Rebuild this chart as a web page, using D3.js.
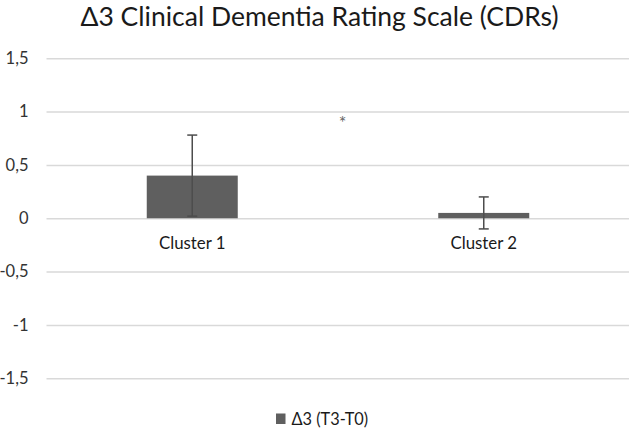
<!DOCTYPE html>
<html>
<head>
<meta charset="utf-8">
<script src="https://cdn.jsdelivr.net/npm/d3@7"></script>
<style>
  html, body { margin: 0; padding: 0; background: #fff; }
  svg { display: block; }
  text { font-family: Lato, "Open Sans", sans-serif; }
</style>
</head>
<body>
<svg id="chart" width="629" height="430"></svg>
<script>
const title = "Δ3 Clinical Dementia Rating Scale (CDRs)";
const categories = ["Cluster 1", "Cluster 2"];
const values = [0.40, 0.05];
const errors = [0.38, 0.15];
const seriesName = "Δ3 (T3-T0)";
const yTicks = [-1.5, -1, -0.5, 0, 0.5, 1, 1.5];
const yTickLabels = ["-1,5", "-1", "-0,5", "0", "0,5", "1", "1,5"];
const annotation = "*";

const W = 629, H = 430;
const svg = d3.select("#chart");

const x = d3.scaleBand().domain(categories).range([46.5, 629.5]).paddingInner(0.688).paddingOuter(0.344);
const y = d3.scaleLinear().domain([-1.5, 1.5]).range([378.2, 58.3]);

// fit text to a target width
function fit(sel, target) {
  const n = sel.node();
  const w = n.getComputedTextLength();
  const fs = parseFloat(sel.attr("font-size"));
  sel.attr("font-size", (fs * target / w).toFixed(2));
}

// title
const t = svg.append("text").attr("x", W / 2 + 5).attr("y", 25.5)
  .attr("text-anchor", "middle").attr("font-size", 26).attr("fill", "#1a1a1a").text(title);
fit(t, 478);

// gridlines
const yAxis = d3.axisLeft(y).tickValues(yTicks).tickSize(-(629 - 46.5))
  .tickFormat((d, i) => yTickLabels[i]).tickPadding(18);
const gy = svg.append("g").attr("transform", "translate(46.5,0)").call(yAxis);
gy.select(".domain").remove();
gy.selectAll(".tick line").attr("stroke", "#d9d9d9").attr("stroke-width", 1.5);
gy.selectAll(".tick text").attr("font-size", 16.5).attr("fill", "#333")
  .attr("font-family", "Lato, 'Open Sans', sans-serif");

// bars
const bw = 91;
svg.append("g").selectAll("rect").data(values).join("rect")
  .attr("x", (d, i) => x(categories[i]) + x.bandwidth() / 2 - bw / 2)
  .attr("width", bw)
  .attr("y", d => y(Math.max(0, d)))
  .attr("height", d => Math.abs(y(d) - y(0)))
  .attr("fill", "#5f5f5f");

// error bars
const eg = svg.append("g").attr("stroke", "#4d4d4d").attr("stroke-width", 1.5);
values.forEach((v, i) => {
  const cx = x(categories[i]) + x.bandwidth() / 2;
  const hi = y(v + errors[i]), lo = y(v - errors[i]);
  eg.append("line").attr("x1", cx).attr("x2", cx).attr("y1", hi).attr("y2", lo);
  eg.append("line").attr("x1", cx - 5).attr("x2", cx + 5).attr("y1", hi).attr("y2", hi);
  eg.append("line").attr("x1", cx - 5).attr("x2", cx + 5).attr("y1", lo).attr("y2", lo);
});

// category labels
categories.forEach((c, i) => {
  const s = svg.append("text").attr("x", x(c) + x.bandwidth() / 2).attr("y", 249)
    .attr("text-anchor", "middle").attr("font-size", 16.5).attr("fill", "#1a1a1a").text(c);
  fit(s, 66.7);
});

// annotation
svg.append("text").attr("x", 342.7).attr("y", 129).attr("text-anchor", "middle")
  .attr("font-family", "'DejaVu Sans', sans-serif")
  .attr("font-size", 18).attr("fill", "#666").text(annotation);

// legend
svg.append("rect").attr("x", 276).attr("y", 413.5).attr("width", 9.5).attr("height", 10.5).attr("fill", "#5f5f5f");
const lt = svg.append("text").attr("x", 291.5).attr("y", 424.5).attr("font-size", 16)
  .attr("fill", "#1a1a1a").text(seriesName);
fit(lt, 76.7);
</script>
</body>
</html>
